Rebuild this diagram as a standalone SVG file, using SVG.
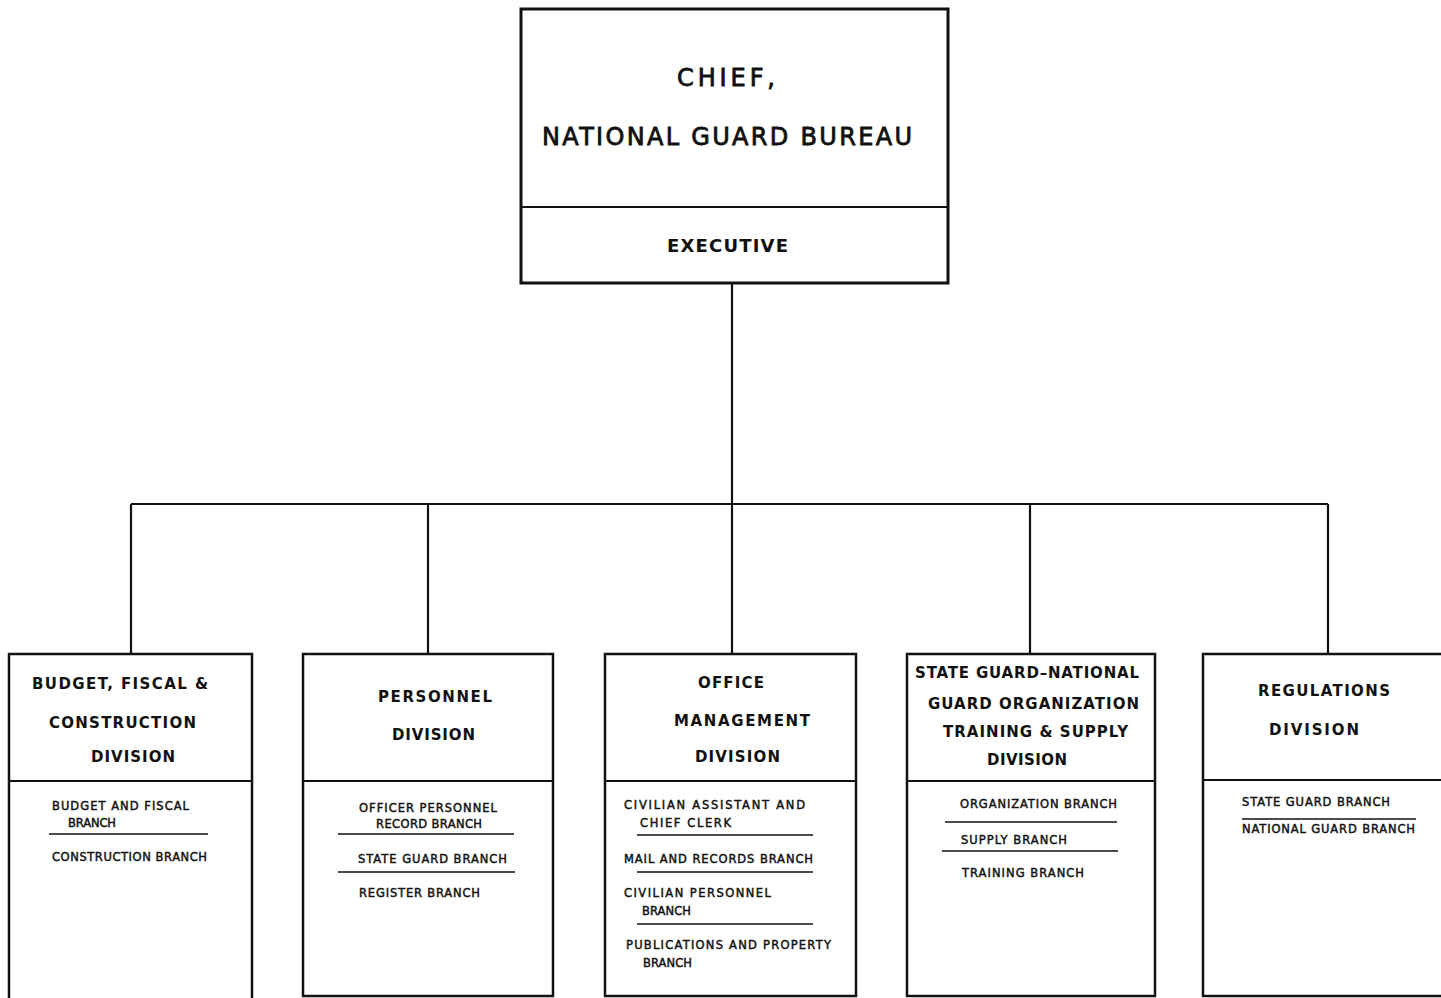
<svg xmlns="http://www.w3.org/2000/svg" width="1441" height="998" viewBox="0 0 1441 998">
<style>
  .bg { fill: #ffffff; }
  .box { fill: none; stroke: #111; stroke-width: 2.5; }
  .topbox { fill: none; stroke: #111; stroke-width: 3; }
  .div { stroke: #111; stroke-width: 2.2; }
  .sep { stroke: #111; stroke-width: 1.6; }
  .conn { fill: none; stroke: #111; stroke-width: 2.2; }
  text { font-family: "DejaVu Sans", "Liberation Sans", sans-serif; fill: #111; }
  .t1 { font-size: 24px; font-weight: normal; stroke: #111; stroke-width: 0.8; }
  .t2 { font-size: 18px; font-weight: bold; }
  .title { font-size: 15px; font-weight: bold; }
  .br { font-size: 11.5px; font-weight: normal; stroke: #111; stroke-width: 0.45; }
</style>
<rect class="bg" x="0" y="0" width="1441" height="998"/>

<g id="connectors">
  <path class="conn" d="M732,283 V504"/>
  <path class="conn" d="M131,504 H1328"/>
  <path class="conn" d="M131,504 V654"/>
  <path class="conn" d="M428,504 V654"/>
  <path class="conn" d="M732,504 V654"/>
  <path class="conn" d="M1030,504 V654"/>
  <path class="conn" d="M1328,504 V654"/>
</g>

<g id="chief">
  <rect class="topbox" x="521" y="9" width="427" height="274"/>
  <line class="div" x1="521" y1="207" x2="948" y2="207"/>
  <text class="t1" x="677" y="86" textLength="98" lengthAdjust="spacing">CHIEF,</text>
  <text class="t1" x="542" y="145" textLength="370" lengthAdjust="spacing">NATIONAL GUARD BUREAU</text>
  <text class="t2" x="667" y="252" textLength="121" lengthAdjust="spacing">EXECUTIVE</text>
</g>

<g id="budget">
  <path class="box" d="M9,1000 V654 H252 V1000"/>
  <line class="div" x1="9" y1="781" x2="252" y2="781"/>
  <text class="title" x="32" y="689" textLength="176" lengthAdjust="spacing">BUDGET, FISCAL &amp;</text>
  <text class="title" x="49" y="728" textLength="147" lengthAdjust="spacing">CONSTRUCTION</text>
  <text class="title" x="91" y="762" textLength="84" lengthAdjust="spacing">DIVISION</text>
  <text class="br" x="52" y="810" textLength="137" lengthAdjust="spacing">BUDGET AND FISCAL</text>
  <text class="br" x="68" y="827" textLength="48" lengthAdjust="spacing">BRANCH</text>
  <line class="sep" x1="49" y1="834" x2="208" y2="834"/>
  <text class="br" x="52" y="861" textLength="155" lengthAdjust="spacing">CONSTRUCTION BRANCH</text>
</g>

<g id="personnel">
  <rect class="box" x="303" y="654" width="250" height="342"/>
  <line class="div" x1="303" y1="781" x2="553" y2="781"/>
  <text class="title" x="378" y="702" textLength="114" lengthAdjust="spacing">PERSONNEL</text>
  <text class="title" x="392" y="740" textLength="83" lengthAdjust="spacing">DIVISION</text>
  <text class="br" x="359" y="812" textLength="138" lengthAdjust="spacing">OFFICER PERSONNEL</text>
  <text class="br" x="376" y="828" textLength="106" lengthAdjust="spacing">RECORD BRANCH</text>
  <line class="sep" x1="338" y1="834" x2="514" y2="834"/>
  <text class="br" x="358" y="863" textLength="149" lengthAdjust="spacing">STATE GUARD BRANCH</text>
  <line class="sep" x1="338" y1="872" x2="515" y2="872"/>
  <text class="br" x="359" y="897" textLength="121" lengthAdjust="spacing">REGISTER BRANCH</text>
</g>

<g id="office">
  <rect class="box" x="605" y="654" width="251" height="342"/>
  <line class="div" x1="605" y1="781" x2="856" y2="781"/>
  <text class="title" x="698" y="688" textLength="66" lengthAdjust="spacing">OFFICE</text>
  <text class="title" x="674" y="726" textLength="136" lengthAdjust="spacing">MANAGEMENT</text>
  <text class="title" x="695" y="762" textLength="85" lengthAdjust="spacing">DIVISION</text>
  <text class="br" x="624" y="809" textLength="181" lengthAdjust="spacing">CIVILIAN ASSISTANT AND</text>
  <text class="br" x="640" y="827" textLength="91" lengthAdjust="spacing">CHIEF CLERK</text>
  <line class="sep" x1="637" y1="835" x2="813" y2="835"/>
  <text class="br" x="624" y="863" textLength="189" lengthAdjust="spacing">MAIL AND RECORDS BRANCH</text>
  <line class="sep" x1="637" y1="872" x2="813" y2="872"/>
  <text class="br" x="624" y="897" textLength="147" lengthAdjust="spacing">CIVILIAN PERSONNEL</text>
  <text class="br" x="642" y="915" textLength="49" lengthAdjust="spacing">BRANCH</text>
  <line class="sep" x1="637" y1="924" x2="813" y2="924"/>
  <text class="br" x="626" y="949" textLength="205" lengthAdjust="spacing">PUBLICATIONS AND PROPERTY</text>
  <text class="br" x="643" y="967" textLength="49" lengthAdjust="spacing">BRANCH</text>
</g>

<g id="stateguard">
  <rect class="box" x="907" y="654" width="248" height="342"/>
  <line class="div" x1="907" y1="781" x2="1155" y2="781"/>
  <text class="title" x="915" y="678" textLength="224" lengthAdjust="spacing">STATE GUARD–NATIONAL</text>
  <text class="title" x="928" y="709" textLength="211" lengthAdjust="spacing">GUARD ORGANIZATION</text>
  <text class="title" x="943" y="737" textLength="185" lengthAdjust="spacing">TRAINING &amp; SUPPLY</text>
  <text class="title" x="987" y="765" textLength="80" lengthAdjust="spacing">DIVISION</text>
  <text class="br" x="960" y="808" textLength="157" lengthAdjust="spacing">ORGANIZATION BRANCH</text>
  <line class="sep" x1="945" y1="822" x2="1117" y2="822"/>
  <text class="br" x="961" y="844" textLength="106" lengthAdjust="spacing">SUPPLY BRANCH</text>
  <line class="sep" x1="942" y1="851" x2="1118" y2="851"/>
  <text class="br" x="962" y="877" textLength="122" lengthAdjust="spacing">TRAINING BRANCH</text>
</g>

<g id="regulations">
  <rect class="box" x="1203" y="654" width="250" height="342"/>
  <line class="div" x1="1203" y1="780" x2="1445" y2="780"/>
  <text class="title" x="1258" y="696" textLength="132" lengthAdjust="spacing">REGULATIONS</text>
  <text class="title" x="1269" y="735" textLength="90" lengthAdjust="spacing">DIVISION</text>
  <text class="br" x="1242" y="806" textLength="148" lengthAdjust="spacing">STATE GUARD BRANCH</text>
  <line class="sep" x1="1242" y1="819" x2="1416" y2="819"/>
  <text class="br" x="1242" y="833" textLength="173" lengthAdjust="spacing">NATIONAL GUARD BRANCH</text>
</g>
</svg>
